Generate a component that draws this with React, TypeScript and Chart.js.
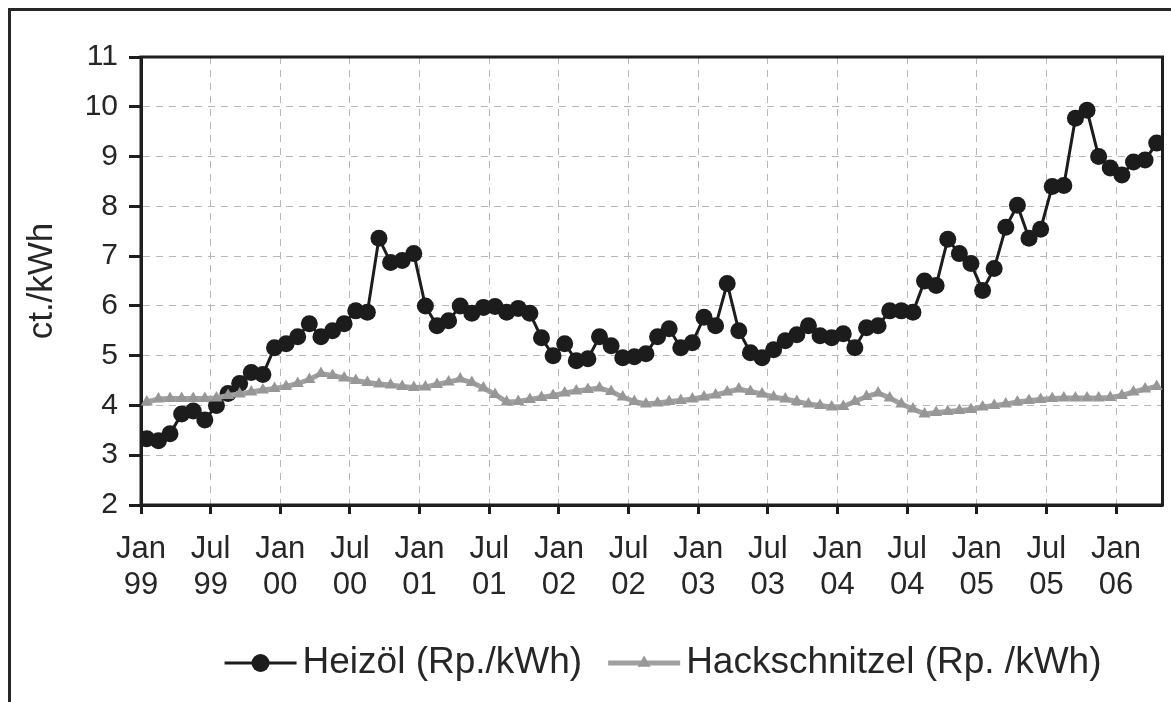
import React, { useEffect, useRef } from 'react';
import { Chart, registerables } from 'chart.js';

Chart.register(...registerables);

// ---- data -------------------------------------------------------------
const START_YEAR = 1999;
const MONTH_COUNT = 88; // Jan 1999 .. Apr 2006 (monthly)
const tickMonthNames = ['Jan', 'Jul'];
const seriesLabels = ['Heizöl (Rp./kWh)', 'Hackschnitzel (Rp. /kWh)'];
const yAxisTitle = 'ct./kWh';
const yMin = 2;
const yMax = 11;

const heizoel = [
  3.33, 3.29, 3.43, 3.83, 3.89, 3.71, 4.0, 4.24, 4.44, 4.66, 4.62, 5.16,
  5.24, 5.38, 5.64, 5.38, 5.5, 5.64, 5.9, 5.87, 7.36, 6.87, 6.91, 7.05,
  6.0, 5.6, 5.7, 6.0, 5.85, 5.97, 5.99, 5.87, 5.95, 5.85, 5.36, 5.0,
  5.24, 4.9, 4.94, 5.38, 5.2, 4.96, 4.98, 5.04, 5.38, 5.54, 5.16, 5.26,
  5.77, 5.6, 6.45, 5.5, 5.06, 4.96, 5.12, 5.3, 5.42, 5.6, 5.4, 5.36,
  5.44, 5.16, 5.56, 5.6, 5.9, 5.9, 5.87, 6.5, 6.41, 7.34, 7.05, 6.85,
  6.31, 6.75, 7.58, 8.02, 7.36, 7.54, 8.4, 8.42, 9.77, 9.93, 9.0, 8.77,
  8.63, 8.89, 8.93, 9.27,
];

const hackschnitzel = [
  4.07, 4.13, 4.14, 4.14, 4.14, 4.14, 4.15, 4.2, 4.23, 4.27, 4.31, 4.34,
  4.38, 4.44, 4.52, 4.64, 4.6, 4.55, 4.5, 4.46, 4.43, 4.41, 4.38, 4.36,
  4.37, 4.42, 4.47, 4.53, 4.46, 4.35, 4.22, 4.07, 4.08, 4.12, 4.16, 4.2,
  4.25, 4.29, 4.32, 4.35, 4.28, 4.17, 4.08, 4.03, 4.05, 4.08, 4.1, 4.13,
  4.17, 4.21, 4.27, 4.33, 4.28, 4.23, 4.17, 4.13, 4.08, 4.03, 4.0, 3.97,
  3.98, 4.08, 4.18, 4.25, 4.15, 4.03, 3.93, 3.83, 3.86, 3.88, 3.9, 3.92,
  3.97, 4.0, 4.03, 4.07, 4.1, 4.12, 4.14, 4.15, 4.15, 4.15, 4.15, 4.16,
  4.2, 4.27, 4.33, 4.38,
];

// ---- styling ----------------------------------------------------------
const FONT = '"Liberation Sans", Arial, Helvetica, sans-serif';
const TEXT_COLOR = '#262626';
const CANVAS_W = 1160;
const CANVAS_H = 691;
const LEGEND_CX = 652;
const LEGEND_CY = 652;

const toPoints = (vals: number[]) => vals.map((v, i) => ({ x: i + 0.5, y: v }));

const framePlugin = {
  id: 'plotFrame',
  beforeDatasetsDraw(chart: any) {
    const { ctx, chartArea: a } = chart;
    ctx.save();
    ctx.strokeStyle = '#1e1e1e';
    ctx.lineWidth = 3;
    ctx.strokeRect(a.left, a.top, a.right - a.left, a.bottom - a.top);
    ctx.restore();
  },
};

const legendPlugin = {
  id: 'lineLegend',
  afterDraw(chart: any) {
    const ctx = chart.ctx as CanvasRenderingContext2D;
    ctx.save();
    ctx.font = `37px ${FONT}`;
    const symW = 72;
    const gapText = 6;
    const gapItem = 26;
    const items = chart.data.datasets.map((ds: any) => ({
      ds,
      w: ctx.measureText(ds.label).width,
    }));
    const total =
      items.reduce((s: number, it: any) => s + symW + gapText + it.w, 0) +
      gapItem * (items.length - 1);
    let x = LEGEND_CX - total / 2;
    const y = LEGEND_CY;
    for (const it of items) {
      const ds = it.ds;
      ctx.strokeStyle = ds.borderColor;
      ctx.lineWidth = ds.borderWidth;
      ctx.beginPath();
      ctx.moveTo(x, y);
      ctx.lineTo(x + symW, y);
      ctx.stroke();
      const cx = x + symW / 2;
      const r = ds.pointRadius + 0.5;
      ctx.fillStyle = ds.pointBackgroundColor;
      ctx.beginPath();
      if (ds.pointStyle === 'triangle') {
        let rad = 0;
        ctx.moveTo(cx + Math.sin(rad) * r, y - Math.cos(rad) * r);
        rad += (2 * Math.PI) / 3;
        ctx.lineTo(cx + Math.sin(rad) * r, y - Math.cos(rad) * r);
        rad += (2 * Math.PI) / 3;
        ctx.lineTo(cx + Math.sin(rad) * r, y - Math.cos(rad) * r);
        ctx.closePath();
      } else {
        ctx.arc(cx, y, r, 0, Math.PI * 2);
      }
      ctx.fill();
      ctx.fillStyle = TEXT_COLOR;
      ctx.textBaseline = 'middle';
      ctx.textAlign = 'left';
      ctx.fillText(ds.label, x + symW + gapText, y);
      x += symW + gapText + it.w + gapItem;
    }
    ctx.restore();
  },
};

export default function App() {
  const canvasRef = useRef<HTMLCanvasElement | null>(null);

  useEffect(() => {
    const canvas = canvasRef.current;
    if (!canvas) return;
    const chart = new Chart(canvas, {
      type: 'line',
      data: {
        datasets: [
          {
            label: seriesLabels[0],
            data: toPoints(heizoel),
            borderColor: '#1c1c1c',
            backgroundColor: '#1c1c1c',
            pointBackgroundColor: '#1c1c1c',
            pointBorderColor: '#1c1c1c',
            borderWidth: 3,
            pointRadius: 8.5,
            pointBorderWidth: 0,
            pointStyle: 'circle',
            tension: 0,
            order: 1,
          },
          {
            label: seriesLabels[1],
            data: toPoints(hackschnitzel),
            borderColor: '#a0a0a0',
            backgroundColor: '#979797',
            pointBackgroundColor: '#979797',
            pointBorderColor: '#979797',
            borderWidth: 5,
            pointRadius: 7,
            pointBorderWidth: 0,
            pointStyle: 'triangle',
            tension: 0,
            order: 0,
          },
        ],
      },
      options: {
        responsive: false,
        animation: false,
        devicePixelRatio: 1,
        layout: { padding: { top: 46, right: 3, left: 0, bottom: 0 } },
        plugins: {
          legend: { display: false },
          tooltip: { enabled: false },
          title: { display: false },
        },
        scales: {
          x: {
            type: 'linear',
            min: 0,
            max: MONTH_COUNT,
            afterFit: (scale: any) => {
              scale.height = 197;
            },
            ticks: {
              stepSize: 6,
              includeBounds: false,
              autoSkip: false,
              maxRotation: 0,
              minRotation: 0,
              padding: 17,
              color: TEXT_COLOR,
              font: { family: FONT, size: 31, lineHeight: 1.18 },
              callback: (value: any) => {
                const m = Number(value);
                const yr = START_YEAR + Math.floor(m / 12);
                const name = tickMonthNames[(m % 12) / 6] ?? '';
                return [name, String(yr % 100).padStart(2, '0')];
              },
            },
            grid: {
              color: '#b8b8b8',
              lineWidth: 1,
              tickLength: 9,
              tickColor: '#1e1e1e',
              tickWidth: 3,
              tickBorderDash: [],
            },
            border: { display: true, color: '#1e1e1e', width: 3, dash: [7, 6] },
          },
          y: {
            min: yMin,
            max: yMax,
            afterFit: (scale: any) => {
              scale.width = 130;
            },
            ticks: {
              stepSize: 1,
              padding: 11,
              color: TEXT_COLOR,
              font: { family: FONT, size: 30 },
            },
            grid: {
              color: '#b8b8b8',
              lineWidth: 1,
              tickLength: 12,
              tickColor: '#1e1e1e',
              tickWidth: 3,
              tickBorderDash: [],
            },
            border: { display: true, color: '#1e1e1e', width: 3, dash: [7, 6] },
            title: {
              display: true,
              text: yAxisTitle,
              color: TEXT_COLOR,
              font: { family: FONT, size: 35 },
              padding: { top: 10, bottom: 0 },
            },
          },
        },
      },
      plugins: [framePlugin, legendPlugin],
    } as any);
    return () => chart.destroy();
  }, []);

  return (
    <div
      style={{
        position: 'fixed',
        left: 8,
        top: 8,
        width: CANVAS_W,
        height: 760,
        borderLeft: '3px solid #262626',
        borderTop: '3px solid #262626',
        overflow: 'hidden',
        background: '#fff',
      }}
    >
      <canvas
        ref={canvasRef}
        width={CANVAS_W}
        height={CANVAS_H}
        style={{ display: 'block', width: CANVAS_W, height: CANVAS_H }}
      />
    </div>
  );
}
